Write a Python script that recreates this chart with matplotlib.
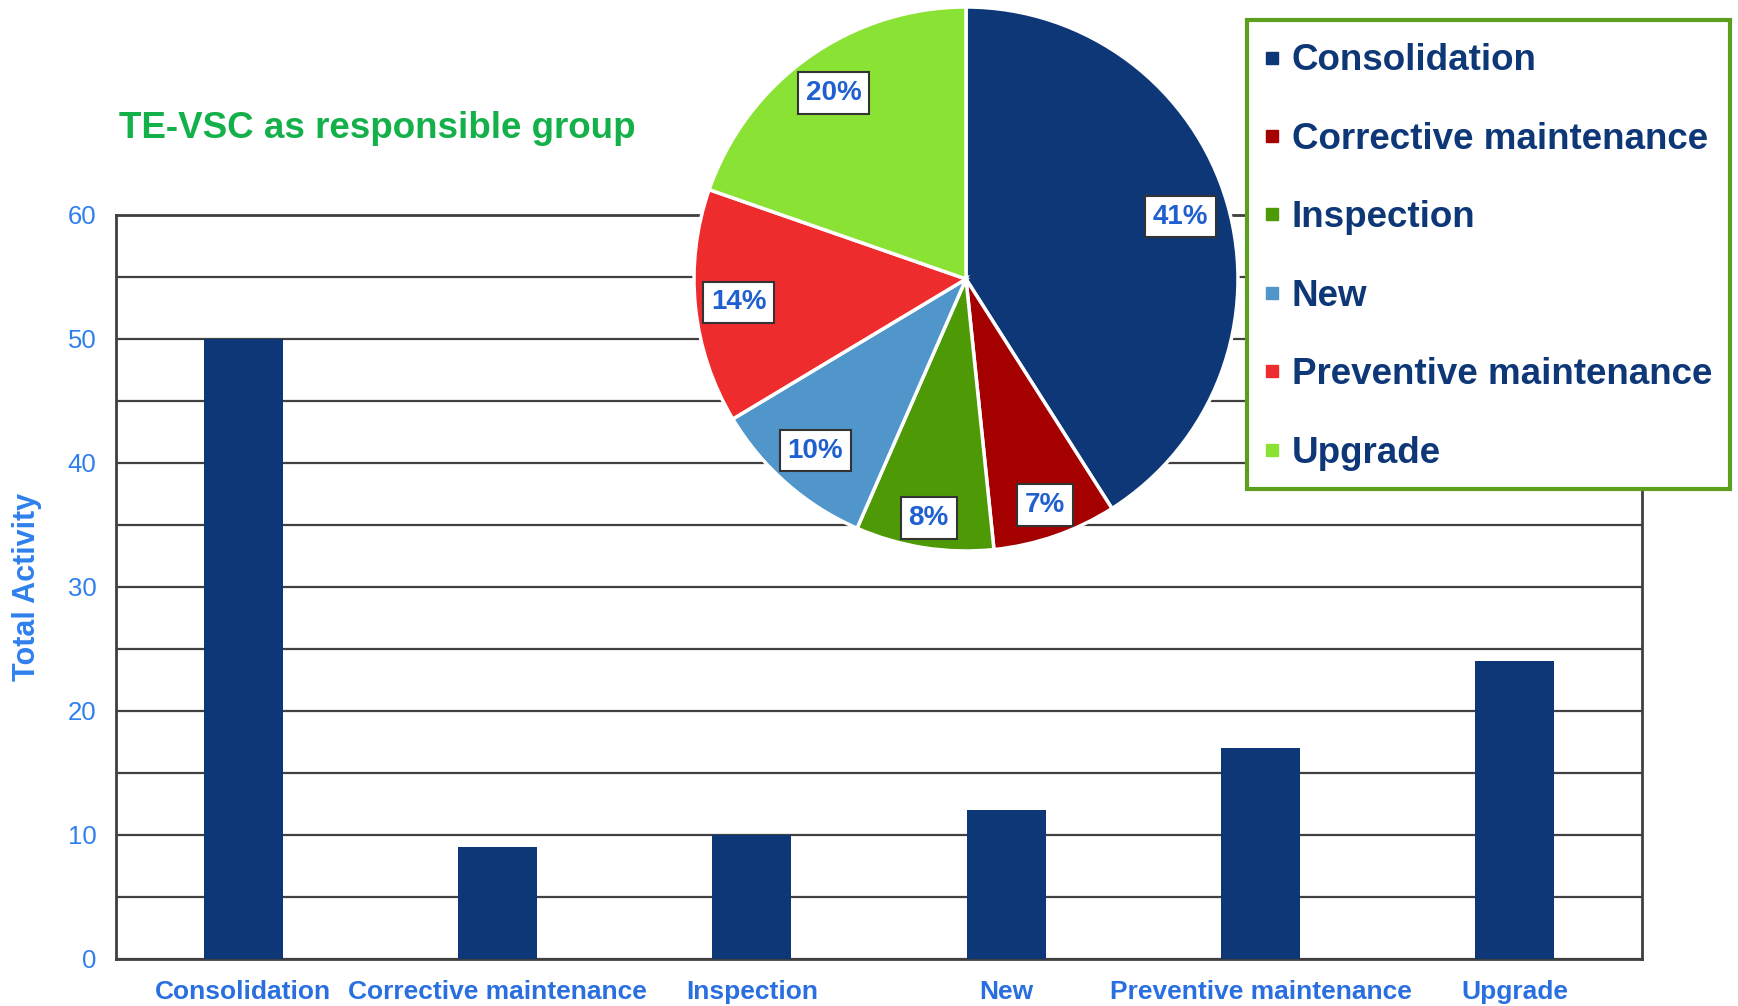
import matplotlib
matplotlib.use("Agg")
import matplotlib.pyplot as plt
from matplotlib.lines import Line2D
from matplotlib.patches import Rectangle
import numpy as np

plt.rcParams['font.family'] = ['Liberation Sans', 'DejaVu Sans']

categories = ["Consolidation", "Corrective maintenance", "Inspection", "New",
              "Preventive maintenance", "Upgrade"]
activity = [50, 9, 10, 12, 17, 24]
pie_colors = ["#0e3778", "#a50000", "#4e9a06", "#5096cb", "#ee2b2d", "#8ae234"]
yticks = [0, 10, 20, 30, 40, 50, 60]
title = "TE-VSC as responsible group"
ylabel = "Total Activity"

W, H = 1738, 1006
fig = plt.figure(figsize=(W / 100, H / 100), dpi=100)

# Bar axes
L, R, T, B = 116, 1642, 215, 959
ax = fig.add_axes([L / W, 1 - B / H, (R - L) / W, (B - T) / H])
x = np.arange(len(categories))
ax.bar(x, activity, width=0.31, color="#0e3778", zorder=3)
ax.set_xlim(-0.5, len(categories) - 0.5)
ax.set_ylim(0, 60)
ax.set_yticks(yticks)
ax.set_yticks(np.arange(0, 61, 5), minor=True)
ax.grid(which='both', axis='y', color="#404040", linewidth=1.6, zorder=0)
ax.set_axisbelow(True)
ax.set_xticks(x)
ax.set_xticklabels(categories, fontsize=19, fontweight='bold', color="#2a6fe0")
ax.tick_params(axis='x', length=0, pad=15)
ax.tick_params(axis='y', which='both', length=0, pad=14, labelsize=18.5,
               labelcolor="#2f80ed")
for s in ax.spines.values():
    s.set_color("#404040")
    s.set_linewidth(2)
ax.set_ylabel(ylabel, fontsize=22, fontweight='bold', color="#2f80ed")
ax.yaxis.set_label_coords((42 - L) / (R - L), 0.5)

fig.text(119 / W, 1 - 129 / H, title, fontsize=26.5, fontweight='bold',
         color="#14b04a", ha='left', va='center')

# Pie axes
cx, cy, r = 966, 279, 272
pax = fig.add_axes([(cx - r) / W, 1 - (cy + r) / H, 2 * r / W, 2 * r / H])
wedges, texts, autotexts = pax.pie(
    activity, colors=pie_colors, startangle=90, counterclock=False,
    autopct=lambda p: f"{p:.0f}%", pctdistance=0.84,
    wedgeprops=dict(edgecolor='white', linewidth=2.5),
    textprops=dict(fontsize=20, fontweight='bold', color="#1f5fcf"))
label_dist = [0.82, 0.88, 0.89, 0.84, 0.84, 0.84]
for w, t, d in zip(wedges, autotexts, label_dist):
    ang = np.deg2rad((w.theta1 + w.theta2) / 2)
    t.set_position((d * np.cos(ang), d * np.sin(ang)))
    t.set_bbox(dict(facecolor='white', edgecolor='#333333', linewidth=1.5,
                    boxstyle='square,pad=0.28'))
pax.set_xlim(-1, 1)
pax.set_ylim(-1, 1)
pax.set_aspect('equal')
pax.axis('off')

# Legend frame
bx0, by0, bx1, by1 = 1247, 20, 1730, 489
frame = Rectangle((bx0 / W, 1 - by1 / H), (bx1 - bx0) / W, (by1 - by0) / H,
                  transform=fig.transFigure, facecolor='white',
                  edgecolor="#5b9f1c", linewidth=3, zorder=9)
fig.patches.append(frame)

# Legend
handles = [Line2D([], [], marker='s', linestyle='none', markersize=8,
                  markerfacecolor=c, markeredgecolor=c) for c in pie_colors]
leg = fig.legend(handles, categories, loc='upper left',
                 bbox_to_anchor=(1264 / W, 1 - 43.5 / H),
                 prop=dict(size=26.5, weight='bold'), labelcolor="#0e3778",
                 frameon=False, borderpad=0, labelspacing=1.18,
                 handlelength=0.45, handletextpad=0.3, borderaxespad=0)
leg.set_zorder(10)

fig.savefig("out.png", dpi=100)
